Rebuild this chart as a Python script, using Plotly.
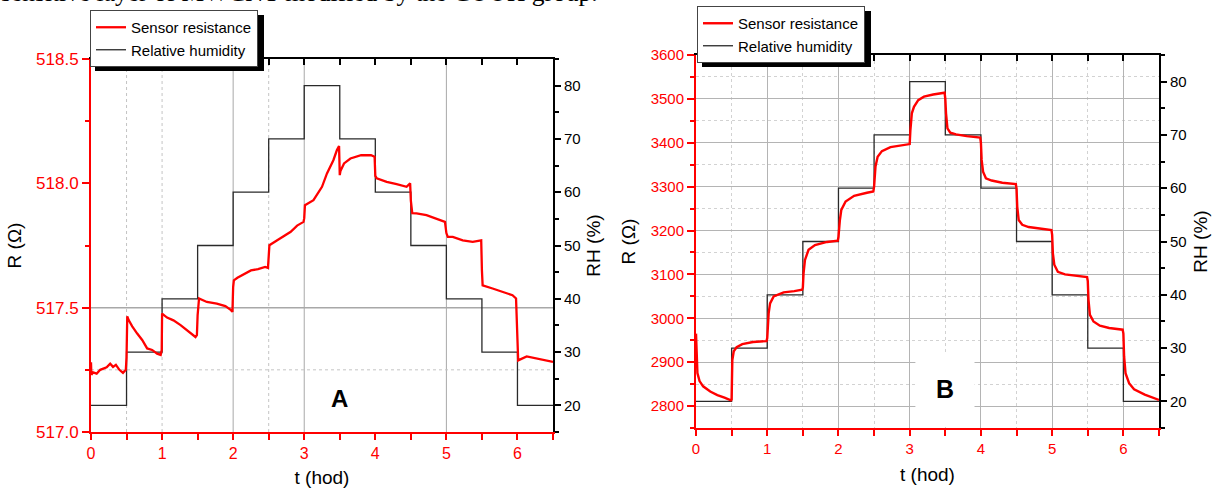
import plotly.graph_objects as go

# ---------------- Data ----------------
# Panel A: sensor resistance (Ohm) vs time (h)
tA = [0.00, 0.005, 0.03, 0.08, 0.13, 0.18, 0.22, 0.27, 0.31, 0.35, 0.40, 0.45, 0.49,
      0.50, 0.51, 0.53, 0.58, 0.65, 0.72, 0.79, 0.86, 0.93, 0.98,
      0.995, 1.00, 1.07, 1.16, 1.26, 1.35, 1.42, 1.47, 1.49,
      1.50, 1.52, 1.63, 1.77, 1.89, 1.97, 1.99,
      2.00, 2.01, 2.06, 2.15, 2.25, 2.35, 2.45, 2.49,
      2.50, 2.51, 2.62, 2.72, 2.81, 2.90, 2.99,
      3.00, 3.01, 3.13, 3.25, 3.32, 3.41, 3.46, 3.49,
      3.50, 3.51, 3.56, 3.65, 3.80, 3.94, 3.99,
      4.00, 4.02, 4.16, 4.30, 4.44, 4.49,
      4.50, 4.52, 4.58, 4.72, 4.86, 4.98,
      5.00, 5.02, 5.09, 5.23, 5.37, 5.49,
      5.50, 5.51, 5.65, 5.79, 5.93, 5.98,
      6.00, 6.01, 6.13, 6.27, 6.41, 6.50]
rA = [517.28, 517.23, 517.24, 517.235, 517.25, 517.255, 517.26, 517.275, 517.262, 517.27, 517.25, 517.238, 517.25,
      517.30, 517.465, 517.45, 517.425, 517.396, 517.37, 517.336, 517.33, 517.315, 517.31,
      517.33, 517.476, 517.46, 517.449, 517.43, 517.41, 517.396, 517.382, 517.39,
      517.47, 517.537, 517.523, 517.516, 517.506, 517.49, 517.483,
      517.583, 517.61, 517.62, 517.635, 517.65, 517.655, 517.664, 517.66,
      517.70, 517.751, 517.771, 517.79, 517.805, 517.83, 517.845,
      517.86, 517.912, 517.932, 517.986, 518.04, 518.093, 518.134, 518.15,
      518.033, 518.05, 518.08, 518.10, 518.113, 518.113, 518.107,
      518.03, 518.02, 518.006, 517.997, 517.986, 518.00,
      517.93, 517.88, 517.879, 517.872, 517.859, 517.845,
      517.80, 517.785, 517.785, 517.771, 517.765, 517.771,
      517.65, 517.59, 517.577, 517.563, 517.55, 517.537,
      517.40, 517.288, 517.304, 517.295, 517.288, 517.282]

# Relative humidity program (%), step starts (same for both panels)
t_rh = [0, 0.5, 1.0, 1.5, 2.0, 2.5, 3.0, 3.5, 4.0, 4.5, 5.0, 5.5, 6.0, 6.5]
rh = [20, 30, 40, 50, 60, 70, 80, 70, 60, 50, 40, 30, 20, 20]

# Panel B: sensor resistance (Ohm) vs time (h)
tB = [0.00, 0.005, 0.02, 0.05, 0.10, 0.20, 0.30, 0.40, 0.49,
      0.50, 0.51, 0.53, 0.57, 0.65, 0.80, 0.99,
      1.00, 1.02, 1.04, 1.09, 1.23, 1.38, 1.49,
      1.50, 1.51, 1.53, 1.58, 1.67, 1.84, 1.99,
      2.00, 2.02, 2.04, 2.10, 2.22, 2.40, 2.49,
      2.50, 2.52, 2.55, 2.61, 2.73, 2.87, 3.00,
      3.01, 3.03, 3.06, 3.12, 3.20, 3.33, 3.49,
      3.50, 3.51, 3.53, 3.57, 3.65, 3.80, 3.99,
      4.00, 4.01, 4.03, 4.07, 4.15, 4.30, 4.49,
      4.50, 4.51, 4.53, 4.58, 4.67, 4.85, 4.99,
      5.00, 5.01, 5.03, 5.08, 5.18, 5.35, 5.49,
      5.50, 5.51, 5.53, 5.58, 5.67, 5.80, 5.99,
      6.00, 6.01, 6.03, 6.08, 6.15, 6.30, 6.50]
rB = [2965, 2930, 2875, 2857, 2845, 2833, 2825, 2819, 2813,
      2815, 2905, 2925, 2934, 2941, 2946, 2948,
      2955, 3012, 3034, 3050, 3059, 3062, 3065,
      3070, 3103, 3133, 3156, 3167, 3174, 3177,
      3185, 3224, 3247, 3266, 3279, 3286, 3289,
      3300, 3346, 3368, 3381, 3390, 3394, 3397,
      3429, 3467, 3482, 3497, 3505, 3510, 3514,
      3500, 3467, 3433, 3423, 3419, 3415, 3412,
      3400, 3361, 3334, 3319, 3314, 3309, 3306,
      3295, 3254, 3224, 3213, 3208, 3204, 3201,
      3190, 3148, 3122, 3106, 3100, 3097, 3094,
      3085, 3042, 3008, 2993, 2983, 2978, 2974,
      2965, 2913, 2875, 2852, 2838, 2826, 2814]

# Axis ticks / labels
A_R_range = [517.0, 518.5]
B_R_range = [2750, 3600]
RH_range = [15, 85]
T_range = [0, 6.5]
top_text = "sensitive layer of MWCNT modified by the COOH group."

# ---------------- Figure ----------------
W, H = 1213, 488
RED = "#ff0000"
SANS = "Liberation Sans, Arial, sans-serif"

def px_x(p):
    return p / W

def px_y(p):
    return 1 - p / H

fig = go.Figure()

# Panel A (RH on main axis y, resistance on overlaying y2 -> drawn on top)
fig.add_trace(go.Scatter(x=t_rh, y=rh, mode="lines", line_shape="hv",
                         line=dict(color="#2a2a2a", width=1.3),
                         name="Relative humidity", xaxis="x", yaxis="y",
                         legend="legend", legendrank=2))
fig.add_trace(go.Scatter(x=tA, y=rA, mode="lines",
                         line=dict(color=RED, width=2.3),
                         name="Sensor resistance", xaxis="x", yaxis="y2",
                         legend="legend", legendrank=1))
# Panel B
fig.add_trace(go.Scatter(x=t_rh, y=rh, mode="lines", line_shape="hv",
                         line=dict(color="#2a2a2a", width=1.3),
                         name="Relative humidity", xaxis="x2", yaxis="y3",
                         legend="legend2", legendrank=2))
fig.add_trace(go.Scatter(x=tB, y=rB, mode="lines",
                         line=dict(color=RED, width=2.4),
                         name="Sensor resistance", xaxis="x2", yaxis="y4",
                         legend="legend2", legendrank=1))
# invisible traces to make top axes render
fig.add_trace(go.Scatter(x=[0], y=[20], mode="markers", marker=dict(opacity=0),
                         showlegend=False, hoverinfo="skip", xaxis="x3", yaxis="y"))
fig.add_trace(go.Scatter(x=[0], y=[20], mode="markers", marker=dict(opacity=0),
                         showlegend=False, hoverinfo="skip", xaxis="x4", yaxis="y3"))

xA = [px_x(91), px_x(553)]
yA = [px_y(432), px_y(59)]
xB = [px_x(696), px_x(1159)]
yB = [px_y(428), px_y(55)]

def bottom_axis(domain, anchor, fs, gridB=False):
    d = dict(domain=domain, anchor=anchor, range=T_range, tick0=0, dtick=1,
             automargin=False,
             ticks="outside", ticklen=6, tickwidth=1.5, tickcolor=RED,
             showline=True, linecolor=RED, linewidth=2,
             tickfont=dict(family=SANS, size=fs, color=RED),
             title=dict(text="t (hod)", font=dict(family=SANS, size=19, color="black"), standoff=12),
             zeroline=False, showgrid=False,
             minor=dict(dtick=0.5, ticks="outside", ticklen=6, tickcolor=RED, tickwidth=1.5))
    if gridB:
        d["showgrid"] = True
        d["gridcolor"] = "#b4b4b4"
        d["gridwidth"] = 1
        d["minor"].update(showgrid=True, gridcolor="#d2d2d2", griddash="dot", gridwidth=1)
    return d

def top_axis(overlay, anchor):
    return dict(overlaying=overlay, anchor=anchor, side="top", range=T_range,
                automargin=False,
                tick0=0, dtick=0.5, ticks="inside", ticklen=6, tickwidth=1.5,
                tickcolor="black", showticklabels=False, showline=True,
                linecolor="black", linewidth=2, showgrid=False, zeroline=False)

def rh_axis(domain, anchor, fs, standoff):
    return dict(domain=domain, anchor=anchor, side="right", range=RH_range,
                automargin=False,
                tick0=0, dtick=10, ticks="outside", ticklen=6, tickwidth=1.5,
                tickcolor="black", showline=True, linecolor="black", linewidth=2,
                tickfont=dict(family=SANS, size=fs, color="black"),
                title=dict(text="RH (%)", font=dict(family=SANS, size=19, color="black"), standoff=standoff),
                zeroline=False, showgrid=False,
                minor=dict(dtick=5, ticks="outside", ticklen=4, tickcolor="black", tickwidth=1.5))

fig.update_layout(
    width=W, height=H, margin=dict(l=0, r=0, t=0, b=0, autoexpand=False),
    paper_bgcolor="white", plot_bgcolor="rgba(0,0,0,0)",
    showlegend=True,
    xaxis=bottom_axis(xA, "y", 16),
    xaxis2=bottom_axis(xB, "y3", 15, gridB=True),
    xaxis3=top_axis("x", "y"),
    xaxis4=top_axis("x2", "y3"),
    yaxis=rh_axis(yA, "x", 15, 7),
    yaxis3=rh_axis(yB, "x2", 15, 8),
    yaxis2=dict(overlaying="y", anchor="x", side="left", range=A_R_range,
                automargin=False,
                tick0=517, dtick=0.5, tickformat=".1f",
                ticks="outside", ticklen=7, tickwidth=1.5, tickcolor=RED,
                showline=True, linecolor=RED, linewidth=2,
                tickfont=dict(family=SANS, size=17, color=RED),
                title=dict(text="R (Ω)", font=dict(family=SANS, size=19, color="black"), standoff=9),
                zeroline=False, showgrid=False,
                minor=dict(dtick=0.25, ticks="outside", ticklen=4, tickcolor=RED, tickwidth=1.5)),
    yaxis4=dict(overlaying="y3", anchor="x2", side="left", range=B_R_range,
                automargin=False,
                tick0=0, dtick=100,
                ticks="outside", ticklen=7, tickwidth=1.5, tickcolor=RED,
                showline=True, linecolor=RED, linewidth=2,
                tickfont=dict(family=SANS, size=15, color=RED),
                title=dict(text="R (Ω)", font=dict(family=SANS, size=19, color="black"), standoff=10),
                zeroline=False, showgrid=True, gridcolor="#b4b4b4", gridwidth=1,
                minor=dict(dtick=50, ticks="outside", ticklen=4, tickcolor=RED, tickwidth=1.5,
                           showgrid=True, gridcolor="#d2d2d2", griddash="dot")),
    legend=dict(x=px_x(90), y=px_y(10), xanchor="left", yanchor="top",
                bgcolor="white", bordercolor="#444", borderwidth=1,
                font=dict(family=SANS, size=15, color="black"),
                tracegroupgap=0, itemwidth=30),
    legend2=dict(x=px_x(697), y=px_y(6), xanchor="left", yanchor="top",
                 bgcolor="white", bordercolor="#444", borderwidth=1,
                 font=dict(family=SANS, size=15, color="black"),
                 tracegroupgap=0, itemwidth=30),
)

shapes = []
# Panel A sparse grid (as in the original)
for t, solid in [(0.5, False), (1.0, False), (2.0, True), (2.5, False), (3.0, True), (5.0, True)]:
    shapes.append(dict(type="line", xref="x", yref="y2", x0=t, x1=t, y0=A_R_range[0], y1=A_R_range[1],
                       line=dict(color="#a8a8a8" if solid else "#c4c4c4", width=1,
                                 dash="solid" if solid else "dot"), layer="below"))
for r, solid in [(517.5, True), (517.25, False)]:
    shapes.append(dict(type="line", xref="x", yref="y2", x0=T_range[0], x1=T_range[1], y0=r, y1=r,
                       line=dict(color="#a8a8a8" if solid else "#c4c4c4", width=1.5 if solid else 1,
                                 dash="solid" if solid else "dot"), layer="below"))
# white boxes behind panel labels
shapes.append(dict(type="rect", xref="x", yref="y2", x0=3.08, x1=3.9, y0=517.006, y1=517.24,
                   fillcolor="white", line=dict(width=0), layer="above"))
shapes.append(dict(type="rect", xref="x2", yref="y4", x0=3.08, x1=3.91, y0=2757, y1=2917,
                   fillcolor="white", line=dict(width=0), layer="above"))
# legend shadows
shapes.append(dict(type="rect", xref="paper", yref="paper", x0=px_x(95), x1=px_x(264),
                   y0=px_y(71), y1=px_y(15), fillcolor="black", line=dict(width=0), layer="above"))
shapes.append(dict(type="rect", xref="paper", yref="paper", x0=px_x(702), x1=px_x(871),
                   y0=px_y(67), y1=px_y(11), fillcolor="black", line=dict(width=0), layer="above"))
fig.update_layout(shapes=shapes)

fig.add_annotation(text="<b>A</b>", xref="x", yref="y2", x=3.49, y=517.135, showarrow=False,
                   font=dict(family=SANS, size=24, color="black"))
fig.add_annotation(text="<b>B</b>", xref="x2", yref="y4", x=3.49, y=2840, showarrow=False,
                   font=dict(family=SANS, size=25, color="black"))
fig.add_annotation(text=top_text, xref="paper", yref="paper", x=px_x(-1), y=px_y(9),
                   xanchor="left", yanchor="bottom", showarrow=False,
                   font=dict(family="Liberation Serif, Times New Roman, serif", size=25.5, color="black"))

fig.write_html("out.html")
